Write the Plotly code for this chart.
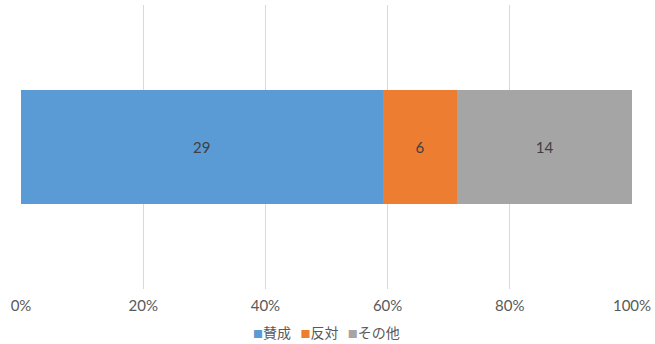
import plotly.graph_objects as go

categories = ["回答"]
series_names = ["賛成", "反対", "その他"]
series_values = [[29], [6], [14]]
series_colors = ["#5B9BD5", "#ED7D31", "#A5A5A5"]
tick_values = [0, 20, 40, 60, 80, 100]
tick_labels = ["0%", "20%", "40%", "60%", "80%", "100%"]

fig = go.Figure()
for name, vals, color in zip(series_names, series_values, series_colors):
    fig.add_trace(go.Bar(
        y=categories, x=vals, name=name, orientation="h",
        marker=dict(color=color, line=dict(width=0)),
        text=[str(v) for v in vals], textposition="inside",
        insidetextanchor="middle",
        textfont=dict(color="#404040", size=15),
        width=0.401, showlegend=False,
    ))

# compact legend row: small coloured square + series name
legend_text = "&nbsp;&nbsp;&nbsp;".join(
    f"<span style='color:{c};font-size:10px'>■</span>{n}"
    for n, c in zip(series_names, series_colors)
)
fig.add_annotation(
    text=legend_text, xref="paper", yref="paper", x=0.5, y=-0.152,
    xanchor="center", yanchor="middle", showarrow=False,
    font=dict(family="'Noto Sans CJK JP', sans-serif", size=14, color="#595959"),
)

fig.update_layout(
    barmode="stack", barnorm="percent",
    width=655, height=344,
    margin=dict(l=21, r=23, t=5, b=55, autoexpand=False),
    paper_bgcolor="white", plot_bgcolor="white",
    font=dict(family="Lato, 'Noto Sans CJK JP', sans-serif", color="#595959", size=14),
    showlegend=False,
    uniformtext=dict(mode="show", minsize=10),
)
fig.update_xaxes(range=[0, 100], tickvals=tick_values, ticktext=tick_labels,
                 showgrid=True, gridcolor="#D9D9D9", gridwidth=1,
                 zeroline=False, showline=False, ticks="", ticklabelstandoff=6,
                 tickfont=dict(size=15, color="#595959"))
fig.update_yaxes(range=[-0.5, 0.5], showticklabels=False, showgrid=False, zeroline=False)

fig.write_html("out.html")
